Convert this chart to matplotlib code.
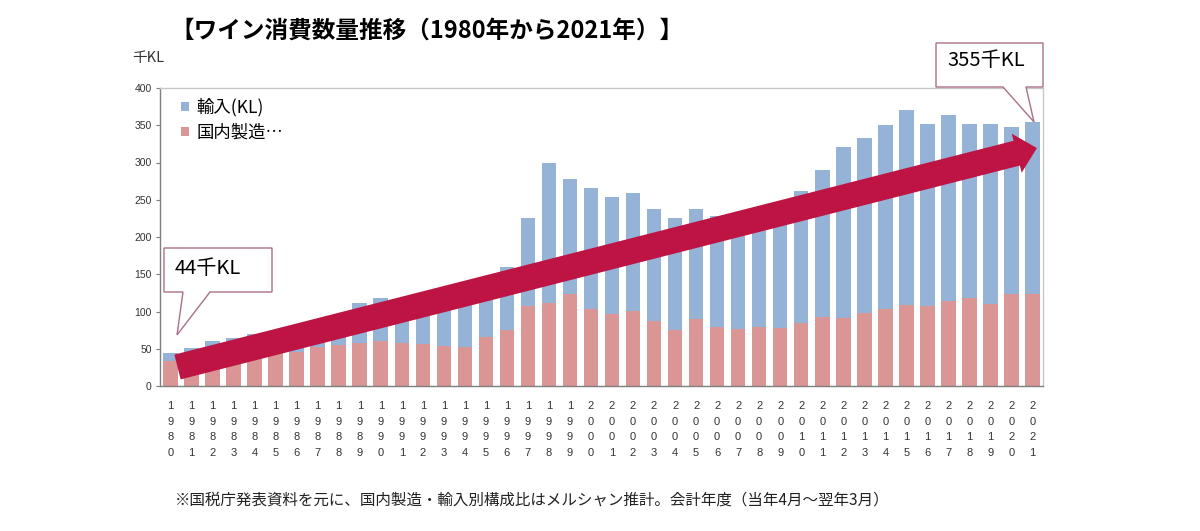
import matplotlib
matplotlib.use("Agg")
import matplotlib.pyplot as plt
import matplotlib.patches as mpatches

plt.rcParams['font.family'] = ['Noto Sans CJK JP', 'DejaVu Sans']

W, H = 1200, 531

years = list(range(1980, 2022))
# 国内製造 (千KL)
domestic = [34, 36, 37, 39, 42, 44, 46, 53, 55, 58,
            60, 58, 57, 54, 53, 66, 75, 108, 112, 123,
            104, 97, 101, 87, 75, 90, 79, 77, 79, 78,
            84, 92, 91, 98, 104, 109, 107, 114, 118, 110,
            124, 124]
# 輸入 (千KL)
imported = [10, 15, 23, 26, 28, 28, 30, 29, 40, 54,
            58, 42, 47, 54, 65, 79, 85, 117, 187, 155,
            162, 157, 158, 150, 150, 148, 149, 154, 147, 158,
            178, 198, 230, 235, 247, 261, 245, 250, 234, 242,
            223, 231]

blue = '#95B3D7'
red = '#D99694'
crimson = '#BE1443'
box_edge = '#A8708A'


def px(x, y):
    # pixel position (from top-left) -> figure fraction
    return (x / W, 1 - y / H)


fig = plt.figure(figsize=(W / 100, H / 100), dpi=100)
ax = fig.add_axes([160 / W, (H - 386) / H, 883 / W, 298 / H])

xs = list(range(len(years)))
b_dom = ax.bar(xs, domestic, width=0.69, color=red, label='国内製造…', zorder=2)
b_imp = ax.bar(xs, imported, width=0.69, bottom=domestic, color=blue,
               label='輸入(KL)', zorder=2)

ax.set_xlim(-0.5, len(years) - 0.5)
ax.set_ylim(0, 400)
ax.set_yticks(range(0, 401, 50))
ax.set_yticklabels([str(v) for v in range(0, 401, 50)], fontsize=7.5,
                   family='Liberation Sans', color='#333333')
ax.set_xticks(xs)
ax.set_xticklabels(['\n'.join(str(y)) for y in years], fontsize=8,
                   family='Liberation Sans', color='#333333', linespacing=1.7)
ax.tick_params(axis='x', length=0, pad=11)
ax.tick_params(axis='y', length=3, width=0.8, color='#7F7F7F', pad=3)

for s in ['left', 'bottom']:
    ax.spines[s].set_color('#7F7F7F')
    ax.spines[s].set_linewidth(1.0)
for s in ['top', 'right']:
    ax.spines[s].set_color('#C8C8C8')
    ax.spines[s].set_linewidth(1.0)

ax.legend(handles=[b_imp, b_dom], loc='upper left',
          bbox_to_anchor=px(181, 98), bbox_transform=fig.transFigure,
          frameon=False, fontsize=12.5, handlelength=0.45, handleheight=0.45,
          handletextpad=0.45, labelspacing=0.42, borderpad=0, borderaxespad=0)

# big trend arrow
ax.annotate('', xy=(41.21, 319.4), xytext=(0.333, 25.5),
            arrowprops=dict(arrowstyle='simple,head_length=0.75,head_width=1.45,tail_width=0.92',
                            mutation_scale=20, fc=crimson, ec='none', lw=0,
                            shrinkA=0, shrinkB=0), zorder=5)

# callouts
c1 = [(164, 248), (272, 248), (272, 292), (210, 292), (177, 335), (183, 292), (164, 292)]
c2 = [(936, 43), (1043, 43), (1043, 87), (1026, 87), (1034, 122), (1003, 87), (936, 87)]
for pts in (c1, c2):
    fig.add_artist(mpatches.Polygon([px(x, y) for x, y in pts], closed=True,
                                    transform=fig.transFigure, fc='white',
                                    ec=box_edge, lw=1.0, zorder=6))
fig.text(*px(175, 268), '44千KL', fontsize=14.5, va='center', ha='left', zorder=7)
fig.text(*px(947, 60), '355千KL', fontsize=14.5, va='center', ha='left', zorder=7)

fig.text(*px(170, 31), '【ワイン消費数量推移（1980年から2021年）】', fontsize=17,
         weight='bold', va='center', ha='left')
fig.text(*px(132, 58), '千KL', fontsize=10.5, va='center', ha='left', color='#333333')
fig.text(*px(175, 500), '※国税庁発表資料を元に、国内製造・輸入別構成比はメルシャン推計。会計年度（当年4月～翌年3月）',
         fontsize=11.2, va='center', ha='left', color='#222222')

fig.savefig('out.png', dpi=100)
